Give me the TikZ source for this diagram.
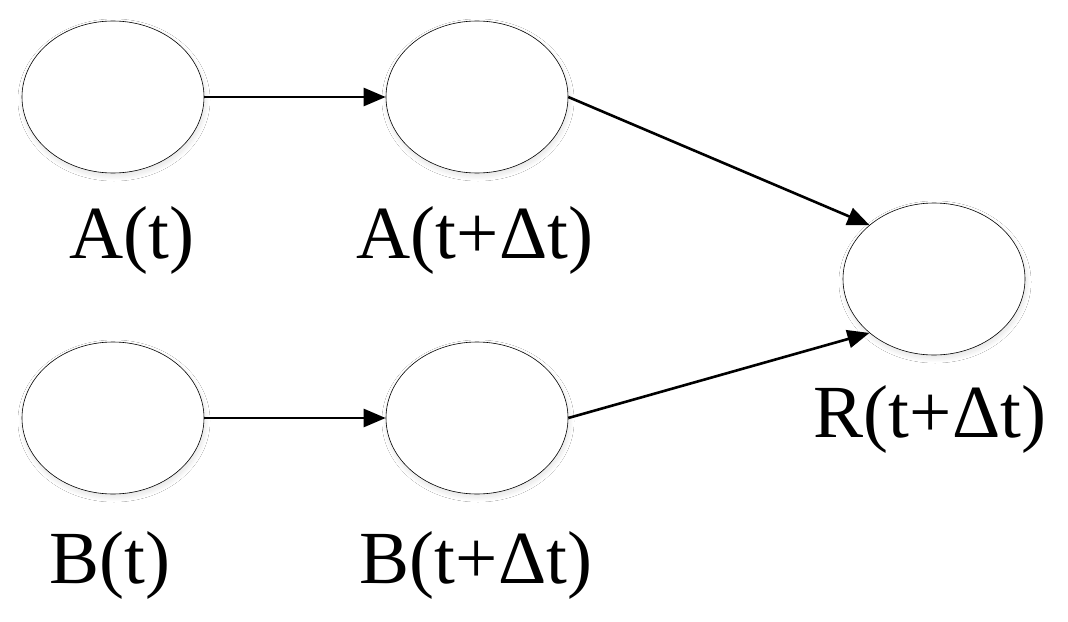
\documentclass[tikz,border=0pt]{standalone}
\usepackage{fontspec}
\setmainfont{Liberation Serif}
\usetikzlibrary{shapes.geometric,arrows.meta,shadows.blur}
\tikzset{
  state/.style={ellipse, draw=black, line width=0.6pt, fill=white,
    minimum width=182pt, minimum height=152pt, inner sep=0pt,
    blur shadow={shadow xshift=1pt, shadow yshift=-3pt, shadow blur steps=20, shadow opacity=12, shadow blur radius=5pt}},
  lbl/.style={anchor=base, inner sep=0pt, font=\fontsize{75}{80}\selectfont},
  conn/.style={line width=2.6pt, -{Triangle[length=22pt,width=18pt]}}
}
\begin{document}
\begin{tikzpicture}[x=1pt,y=-1pt]
  \useasboundingbox[fill=white] (0,0) rectangle (1068,621);
  \node[state] (a1) at (113,97) {};
  \node[state] (a2) at (477,97) {};
  \node[state] (b1) at (113,418) {};
  \node[state] (b2) at (477,418) {};
  \node[state] (r) at (934,279) {};
  \node[lbl] (la1) at (132,258) {A(t)};
  \node[lbl] (la2) at (475,258) {A(t+Δt)};
  \node[lbl] (lb1) at (110,583) {B(t)};
  \node[lbl] (lb2) at (476,583) {B(t+Δt)};
  \node[lbl] (lr) at (930,437) {R(t+Δt)};
  \draw[conn] (a1.east) -- (a2.west);
  \draw[conn] (b1.east) -- (b2.west);
  \draw[conn] (a2.east) -- (r.north west);
  \draw[conn] (b2.east) -- (r.south west);
\end{tikzpicture}
\end{document}
